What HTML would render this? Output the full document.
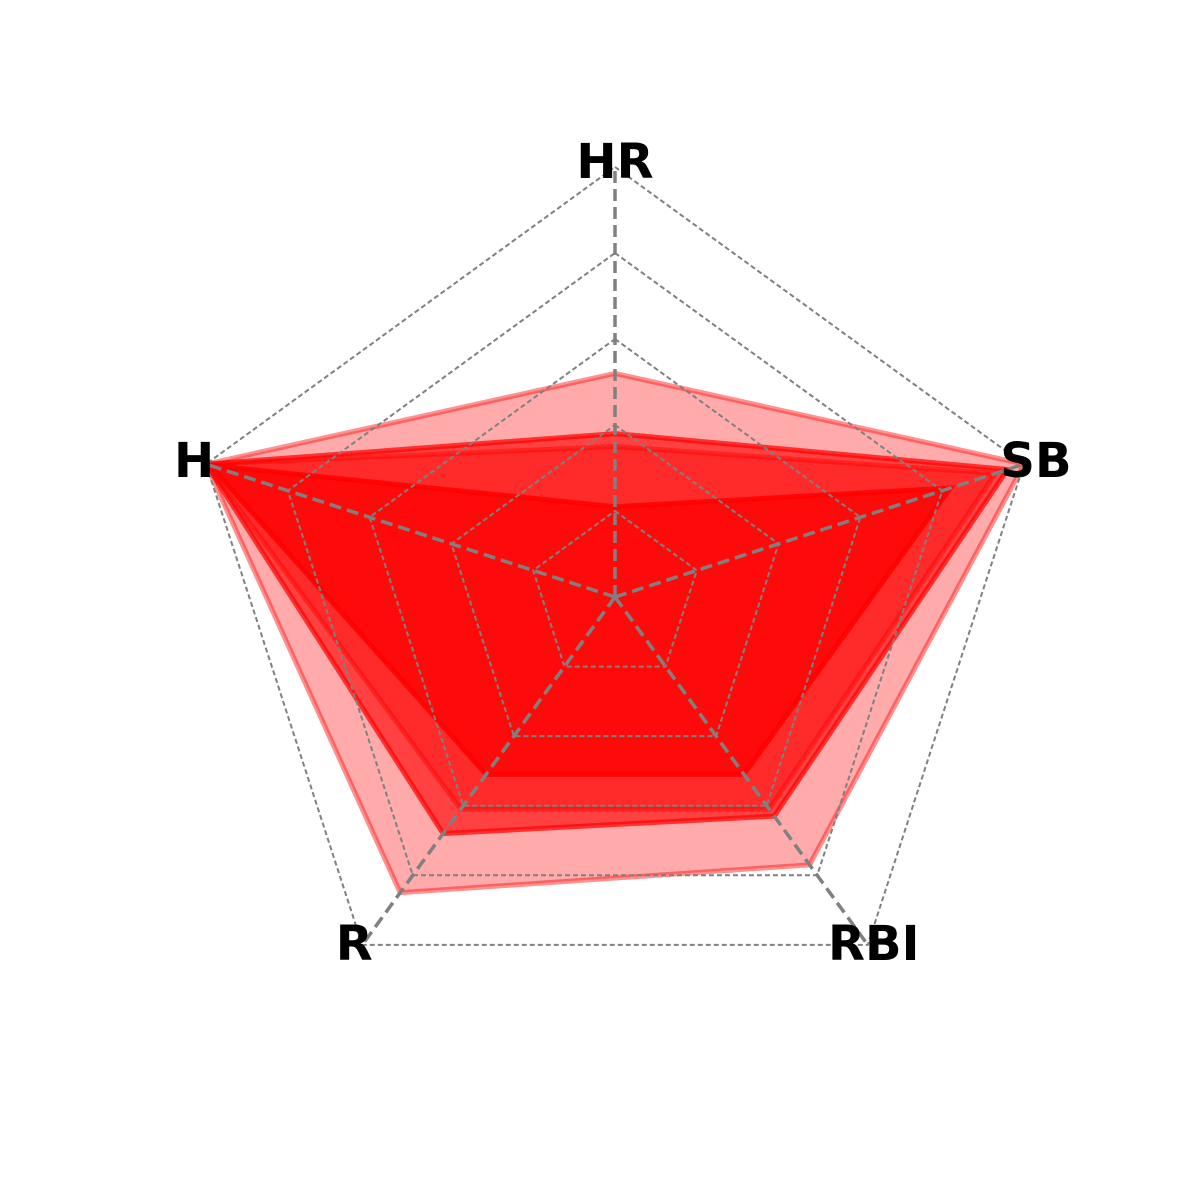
<!DOCTYPE html>
<html><head><meta charset="utf-8"><style>body{margin:0;background:#fff}svg{display:block}</style></head>
<body>
<svg id="chart" width="1200" height="1200" viewBox="0 0 1200 1200">
<g id="fills"></g><g id="grid"></g><g id="labels"></g>
</svg>
<script>
const categories = ["HR","SB","RBI","R","H"];
const seriesA = [0.52, 1.0, 0.77, 0.85, 1.0];
const seriesB = [0.38, 0.96, 0.63, 0.68, 1.0];
const seriesC = [0.35, 0.93, 0.61, 0.61, 1.0];
const seriesD = [0.21, 0.82, 0.51, 0.51, 0.99];
const ringLevels = [0.2, 0.4, 0.6, 0.8, 1.0];
const cx = 615, cy = 597, R = 430;
const NS = "http://www.w3.org/2000/svg";
function ang(i){ return (90 - i*72) * Math.PI/180; }
function pt(i, v){ return [cx + R*v*Math.cos(ang(i)), cy - R*v*Math.sin(ang(i))]; }
function poly(vals){ return vals.map((v,i)=>pt(i,v).join(",")).join(" "); }
const fills = document.getElementById("fills");
const styles = [[seriesA,0.33],[seriesB,0.62],[seriesC,0.35],[seriesD,0.75]];
styles.forEach((s,k)=>{
  const p = document.createElementNS(NS,"polygon");
  p.setAttribute("points", poly(s[0]));
  p.setAttribute("fill", "rgba(255,0,0,"+s[1]+")");
  p.setAttribute("stroke", "rgba(255,0,0,"+Math.min(1,s[1]+0.1)+")");
  p.setAttribute("stroke-width", "5");
  p.setAttribute("stroke-linejoin", "miter");
  
  
  fills.appendChild(p);
});
const grid = document.getElementById("grid");
ringLevels.forEach(l=>{
  const p = document.createElementNS(NS,"polygon");
  p.setAttribute("points", poly(categories.map(()=>l)));
  p.setAttribute("fill","none");
  p.setAttribute("stroke","#808080");
  p.setAttribute("stroke-width","2");
  p.setAttribute("stroke-dasharray","5,3");
  
  
  grid.appendChild(p);
});
categories.forEach((c,i)=>{
  const [x,y] = pt(i,1);
  const l = document.createElementNS(NS,"line");
  l.setAttribute("x1",cx); l.setAttribute("y1",cy); l.setAttribute("x2",x); l.setAttribute("y2",y);
  l.setAttribute("stroke","#808080"); l.setAttribute("stroke-width","3.5");
  l.setAttribute("stroke-dasharray","12,6");
  
  
  grid.appendChild(l);
});
const labels = document.getElementById("labels");
const offs = [[0,-5],[12,-3],[6,-1],[-8,-1],[-12,-3]];
categories.forEach((c,i)=>{
  const [x,y] = pt(i,1);
  const t = document.createElementNS(NS,"text");
  t.setAttribute("x", x+offs[i][0]); t.setAttribute("y", y+offs[i][1]);
  t.setAttribute("text-anchor","middle");
  t.setAttribute("dominant-baseline","central");
  t.setAttribute("font-family","DejaVu Sans, Liberation Sans, sans-serif");
  t.setAttribute("font-weight","bold");
  t.setAttribute("font-size","48");
  t.setAttribute("fill","#000");
  t.textContent = c;
  
  
  labels.appendChild(t);
});
</script>
</body></html>
